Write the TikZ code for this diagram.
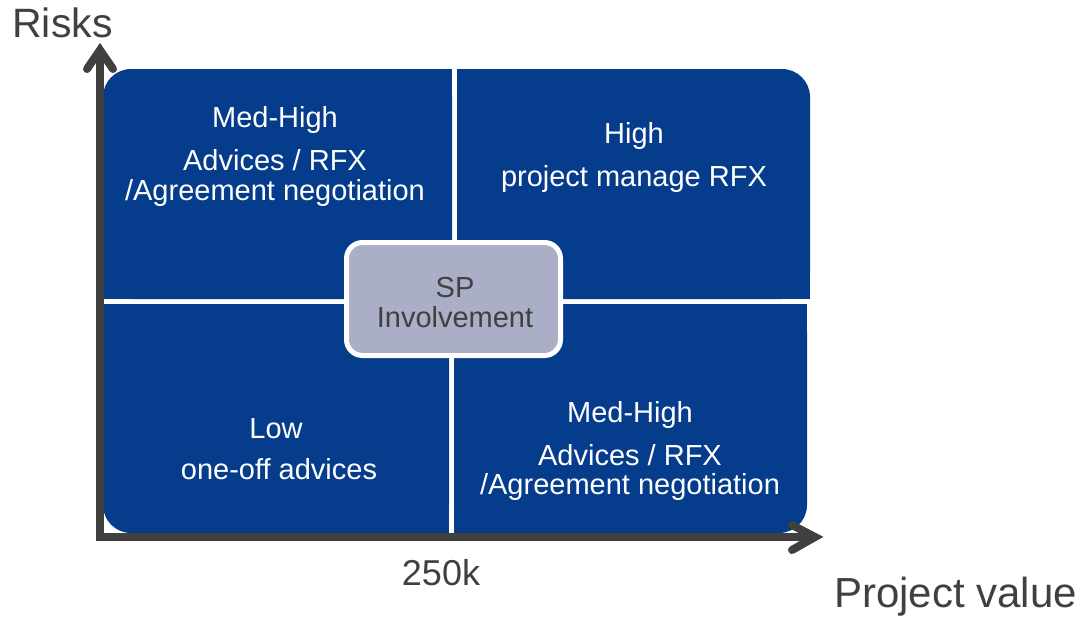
\documentclass[tikz,border=0pt]{standalone}
\usepackage{fontspec}
\setmainfont{Liberation Sans}
\definecolor{quadblue}{RGB}{6,60,140}
\definecolor{hubgrey}{RGB}{170,174,198}
\definecolor{axisgrey}{RGB}{64,64,64}
\begin{document}
\begin{tikzpicture}[x=1pt,y=-1pt,
  quad/.style={fill=quadblue},
  qtext/.style={text=white, font=\fontsize{29}{30}\selectfont, anchor=base, inner sep=0pt},
  hub/.style={draw=white, line width=5pt, fill=hubgrey, rounded corners=16pt,
    minimum width=214pt, minimum height=113pt, inner sep=0pt},
  hubtext/.style={text=axisgrey, font=\fontsize{29}{30}\selectfont, anchor=base, inner sep=0pt},
  axisline/.style={draw=axisgrey, line width=8pt, line join=miter},
  chevron/.style={draw=axisgrey, line width=8pt, line cap=round, line join=miter},
  axislabel/.style={text=axisgrey, anchor=base, inner sep=0pt}
]
\useasboundingbox (0,0) rectangle (1081,616);

% quadrants: each keeps only its outer corner rounded
\fill[quad, rounded corners=28pt] (103,69) rectangle (452,299);
\fill[quad] (150,69) rectangle (452,299);
\fill[quad] (103,120) rectangle (452,299);

\fill[quad, rounded corners=28pt] (457,69) rectangle (810,299);
\fill[quad] (457,69) rectangle (760,299);
\fill[quad] (457,120) rectangle (810,299);

\fill[quad, rounded corners=28pt] (103,304) rectangle (449,533);
\fill[quad] (150,304) rectangle (449,533);
\fill[quad] (103,304) rectangle (449,480);

\fill[quad, rounded corners=28pt] (454,304) rectangle (807,533);
\fill[quad] (454,304) rectangle (757,533);
\fill[quad] (454,304) rectangle (807,480);

% quadrant texts
\node[qtext] (tl1) at (275,127) {Med-High};
\node[qtext] (tl2) at (275,170) {Advices / RFX};
\node[qtext] (tl3) at (275,200) {/Agreement negotiation};

\node[qtext] (tr1) at (634,143) {High};
\node[qtext] (tr2) at (634,186) {project manage RFX};

\node[qtext] (bl1) at (276,438) {Low};
\node[qtext] (bl2) at (279,479) {one-off advices};

\node[qtext] (br1) at (630,422) {Med-High};
\node[qtext] (br2) at (630,465) {Advices / RFX};
\node[qtext] (br3) at (630,494) {/Agreement negotiation};

% central box
\node[hub] (hub) at (453.5,299) {};
\node[hubtext] (hub1) at (455,297) {SP};
\node[hubtext] (hub2) at (455,327) {Involvement};

% axes
\coordinate (origin) at (100,537);
\coordinate (ytip) at (100,50);
\coordinate (xtip) at (815,537);
\coordinate (yl) at (87,69);
\coordinate (yr) at (113,69);
\coordinate (xu) at (792,525);
\coordinate (xd) at (792,550);
\draw[axisline] (ytip) -- (origin) -- (xtip);
\draw[chevron] (yl) -- (ytip) -- (yr);
\draw[chevron] (xu) -- (xtip) -- (xd);

% axis labels
\node[axislabel, font=\fontsize{41}{44}\selectfont] (risks) at (62.5,37) {Risks};
\node[axislabel, font=\fontsize{42}{45}\selectfont] (pvalue) at (955.5,607) {Project value};
\node[axislabel, font=\fontsize{36}{40}\selectfont] (threshold) at (441,585) {250k};
\end{tikzpicture}
\end{document}
